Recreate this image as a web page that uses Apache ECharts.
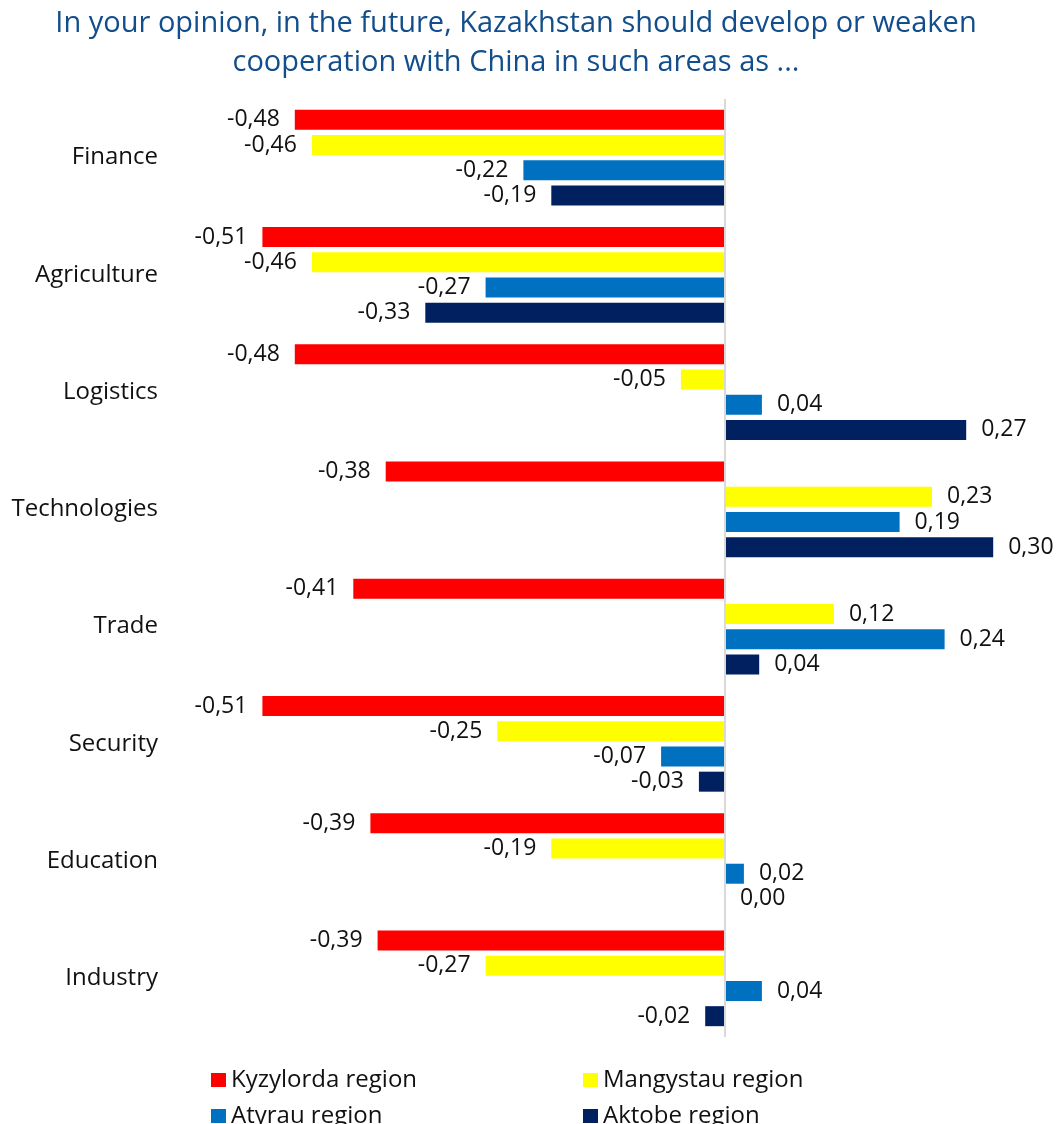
<!DOCTYPE html>
<html>
<head>
<meta charset="utf-8">
<script src="https://cdn.jsdelivr.net/npm/echarts@6/dist/echarts.min.js"></script>
<style>
  html, body { margin: 0; padding: 0; background: #fff; }
  #chart { width: 1061px; height: 1124px; }
</style>
</head>
<body>
<div id="chart"></div>
<script>
// categories top to bottom
var areas = ["Finance", "Agriculture", "Logistics", "Technologies", "Trade", "Security", "Education", "Industry"];
var seriesNames = ["Kyzylorda region", "Mangystau region", "Atyrau region", "Aktobe region"];
var colors = ["#ff0000", "#ffff00", "#0070c0", "#002060"];

// values (labels show them rounded to 2 decimals)
var kyzylorda = [-0.478, -0.514, -0.478, -0.377, -0.413, -0.514, -0.394, -0.386];
var mangystau = [-0.459, -0.459, -0.049, 0.23, 0.121, -0.253, -0.193, -0.266];
var atyrau = [-0.224, -0.266, 0.041, 0.194, 0.244, -0.071, 0.021, 0.041];
var aktobe = [-0.193, -0.333, 0.268, 0.298, 0.038, -0.029, 0.0, -0.022];
var allValues = [kyzylorda, mangystau, atyrau, aktobe];

var FONT = "'Open Sans', 'Noto Sans', sans-serif";

function fmt(v) {
  return v.toFixed(2).replace(".", ",");
}

var series = [];
for (var i = 0; i < seriesNames.length; i++) {
  var items = allValues[i].map(function (v) {
    return { value: v, label: { position: v < 0 ? "left" : "right" } };
  });
  var s = {
    name: seriesNames[i],
    type: "bar",
    data: items,
    barWidth: 20,
    barGap: "26%",
    itemStyle: { color: colors[i] },
    label: {
      show: true,
      distance: 15,
      fontFamily: FONT,
      fontSize: 23,
      color: "#111",
      formatter: function (p) { return fmt(p.value); }
    }
  };
  if (i === 0) {
    s.markLine = {
      silent: true,
      symbol: "none",
      label: { show: false },
      lineStyle: { color: "#d9d9d9", width: 2, type: "solid" },
      data: [{ xAxis: 0 }]
    };
  }
  series.push(s);
}

function legendCol(names, left) {
  return {
    data: names,
    orient: "vertical",
    left: left,
    top: 1063,
    height: 100,
    icon: "rect",
    itemWidth: 15,
    itemHeight: 14,
    itemGap: 12,
    textStyle: { fontFamily: FONT, fontSize: 24, color: "#111" }
  };
}

var chart = echarts.init(document.getElementById("chart"));
var option = {
  animation: false,
  backgroundColor: "#fff",
  title: {
    text: "In your opinion, in the future, Kazakhstan should develop or weaken\ncooperation with China in such areas as ...",
    left: 516,
    textAlign: "center",
    top: 4,
    padding: 0,
    textStyle: {
      fontFamily: FONT,
      fontSize: 29,
      fontWeight: "normal",
      color: "#124e8b",
      lineHeight: 39
    }
  },
  legend: [
    legendCol(["Kyzylorda region", "Atyrau region"], 206),
    legendCol(["Mangystau region", "Aktobe region"], 578)
  ],
  grid: { left: 185, right: 21, top: 99, height: 938, containLabel: false },
  xAxis: {
    type: "value",
    min: -0.6,
    max: 0.35,
    show: false
  },
  yAxis: {
    type: "category",
    data: areas,
    inverse: true,
    axisLine: { show: false },
    axisTick: { show: false },
    axisLabel: { fontFamily: FONT, fontSize: 24, color: "#111", margin: 27, padding: [4, 0, 0, 0] }
  },
  series: series
};
chart.setOption(option);
</script>
</body>
</html>
